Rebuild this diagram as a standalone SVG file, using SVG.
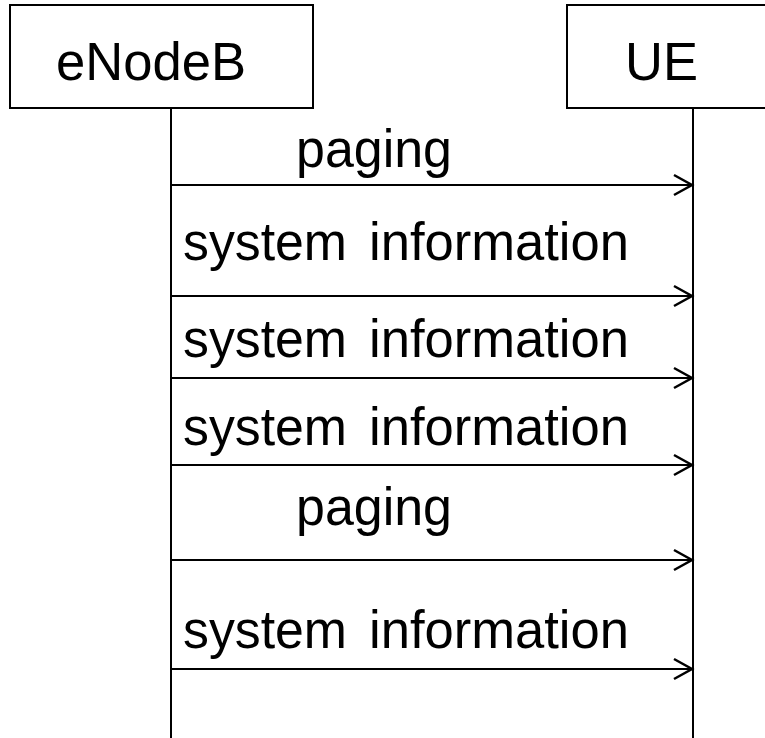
<svg xmlns="http://www.w3.org/2000/svg" width="765" height="738" viewBox="0 0 765 738">
<style>
.box{fill:#fff;stroke:#000;stroke-width:2}
.life{stroke:#000;stroke-width:2;fill:none}
.msg{stroke:#000;stroke-width:2;fill:none}
.t{font-family:"Liberation Sans",Arial,sans-serif;font-size:54px;fill:#000}
</style>
<defs>
<marker id="open" markerUnits="userSpaceOnUse" markerWidth="24" markerHeight="24" viewBox="-20 -12 24 24" refX="0" refY="0" orient="auto">
<path d="M-18,-10 L0,0 L-18,10" fill="none" stroke="#000" stroke-width="2.5"/>
</marker>
</defs>
<g id="node-enodeb">
<rect class="box" x="10" y="5" width="303" height="103"/>
<text class="t" x="56" y="80" textLength="190" lengthAdjust="spacingAndGlyphs">eNodeB</text>
</g>
<g id="node-ue">
<rect class="box" x="567" y="5" width="210" height="103"/>
<text class="t" x="625" y="80" textLength="73" lengthAdjust="spacingAndGlyphs">UE</text>
</g>
<g id="lifelines">
<line class="life" x1="171" y1="108" x2="171" y2="738"/>
<line class="life" x1="693" y1="108" x2="693" y2="738"/>
</g>
<g id="connectors">
<line class="msg" x1="171" y1="185" x2="692" y2="185" marker-end="url(#open)"/>
<line class="msg" x1="171" y1="296" x2="692" y2="296" marker-end="url(#open)"/>
<line class="msg" x1="171" y1="378" x2="692" y2="378" marker-end="url(#open)"/>
<line class="msg" x1="171" y1="465" x2="692" y2="465" marker-end="url(#open)"/>
<line class="msg" x1="171" y1="560" x2="692" y2="560" marker-end="url(#open)"/>
<line class="msg" x1="171" y1="669" x2="692" y2="669" marker-end="url(#open)"/>
</g>
<g id="labels">
<text class="t" x="296" y="167" textLength="156" lengthAdjust="spacingAndGlyphs">paging</text>
<text class="t" y="260"><tspan x="183" textLength="164" lengthAdjust="spacingAndGlyphs">system</tspan> <tspan x="369" textLength="260" lengthAdjust="spacingAndGlyphs">information</tspan></text>
<text class="t" y="357"><tspan x="183" textLength="164" lengthAdjust="spacingAndGlyphs">system</tspan> <tspan x="369" textLength="260" lengthAdjust="spacingAndGlyphs">information</tspan></text>
<text class="t" y="445"><tspan x="183" textLength="164" lengthAdjust="spacingAndGlyphs">system</tspan> <tspan x="369" textLength="260" lengthAdjust="spacingAndGlyphs">information</tspan></text>
<text class="t" x="296" y="525" textLength="156" lengthAdjust="spacingAndGlyphs">paging</text>
<text class="t" y="648"><tspan x="183" textLength="164" lengthAdjust="spacingAndGlyphs">system</tspan> <tspan x="369" textLength="260" lengthAdjust="spacingAndGlyphs">information</tspan></text>
</g>
</svg>
